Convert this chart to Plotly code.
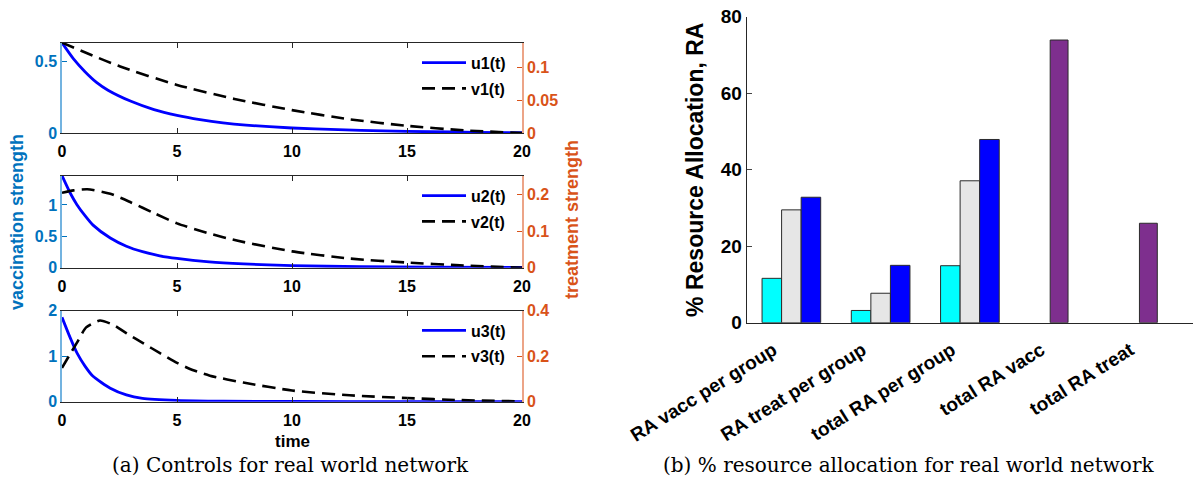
import plotly.graph_objects as go

# ---------------- data: controls (left panels) ----------------
t_u1 = [0, 0.5, 1, 1.5, 2, 3, 4, 5, 6, 7, 8, 10, 12, 14, 16, 18, 20]
u1 = [0.633, 0.52, 0.43, 0.355, 0.30, 0.222, 0.164, 0.124, 0.094, 0.071, 0.055, 0.035, 0.023, 0.015, 0.009, 0.005, 0.002]
t_v1 = [0, 2.5, 5, 7.5, 10, 12.5, 15, 17.5, 20]
v1 = [0.138, 0.102, 0.0735, 0.052, 0.035, 0.021, 0.011, 0.004, 0.0]

t_u2 = [0, 0.35, 0.65, 1, 1.35, 2.1, 2.8, 3.5, 4.25, 5, 6.4, 7.9, 10, 13, 16, 20]
u2 = [1.467, 1.195, 1.005, 0.83, 0.679, 0.473, 0.342, 0.255, 0.19, 0.147, 0.092, 0.06, 0.033, 0.016, 0.009, 0.005]
t_v2 = [0, 0.5, 1.1, 2.1, 3, 4, 5, 6.3, 7.6, 10, 12.5, 15, 17.3, 20]
v2 = [0.2045, 0.211, 0.214, 0.2017, 0.178, 0.149, 0.121, 0.095, 0.074, 0.0446, 0.025, 0.014, 0.0065, 0.0]

t_u3 = [0, 0.35, 0.65, 1, 1.35, 2.1, 2.8, 3.5, 5, 7, 10, 15, 20]
u3 = [1.85, 1.41, 1.07, 0.78, 0.556, 0.296, 0.148, 0.074, 0.03, 0.01, 0.004, 0.002, 0.001]
t_v3 = [0, 0.3, 0.65, 1.05, 1.65, 2.23, 2.81, 3.54, 4.26, 5.0, 5.71, 6.43, 7.88, 10, 12.5, 15, 17.3, 20]
v3 = [0.148, 0.2, 0.259, 0.326, 0.356, 0.337, 0.300, 0.256, 0.213, 0.170, 0.138, 0.114, 0.084, 0.049, 0.028, 0.016, 0.007, 0.0015]

# ---------------- data: resource allocation (right panel) ----------------
categories = ["RA vacc per group", "RA treat per group", "total RA per group", "total RA vacc", "total RA treat"]
group1 = [11.6, 3.2, 14.9]   # cyan
group2 = [29.5, 7.7, 37.1]   # light gray
group3 = [32.8, 15.0, 47.9]  # blue
totals = [73.9, 26.0]        # purple (total RA vacc, total RA treat)

BLUE_T = "#0072BD"
ORANGE_T = "#D95319"
FONT = "Liberation Sans"

fig = go.Figure()

panels = [
    (t_u1, u1, t_v1, v1, "u1(t)", "v1(t)", [0, 0.633], [0, 0.138], [0, 0.5], [0, 0.05, 0.1]),
    (t_u2, u2, t_v2, v2, "u2(t)", "v2(t)", [0, 1.467], [0, 0.251], [0, 0.5, 1], [0, 0.1, 0.2]),
    (t_u3, u3, t_v3, v3, "u3(t)", "v3(t)", [0, 2.0], [0, 0.4], [0, 1, 2], [0, 0.2, 0.4]),
]

W, H = 1196, 498
xl, xr = 62 / W, 522 / W
ydoms = [(133, 42.7), (267.7, 175.7), (401.7, 310.5)]

for i, (tu, u, tv, v, nu, nv, ur, vr, uticks, vticks) in enumerate(panels):
    k = i + 1
    xa = "x" if k == 1 else f"x{k}"
    ya_l = "y" if k == 1 else f"y{2*k-1}"
    ya_r = f"y{2*k}"
    leg = "legend" if k == 1 else f"legend{k}"
    fig.add_trace(go.Scatter(x=tu, y=u, mode="lines", name=nu, xaxis=xa, yaxis=ya_l,
                             line=dict(color="#0000FF", width=2.8, shape="spline", smoothing=0.6),
                             legend=leg, legendgroup=f"a{k}"))
    fig.add_trace(go.Scatter(x=tv, y=v, mode="lines", name=nv, xaxis=xa, yaxis=ya_r,
                             line=dict(color="#000000", width=2.6, dash="13px,7px", shape="spline", smoothing=0.6),
                             legend=leg, legendgroup=f"b{k}"))
    yb, yt = ydoms[i]
    dom = [1 - yb / H, 1 - yt / H]
    xkey = "xaxis" if k == 1 else f"xaxis{k}"
    ylkey = "yaxis" if k == 1 else f"yaxis{2*k-1}"
    yrkey = f"yaxis{2*k}"
    fig.update_layout(**{
        xkey: dict(domain=[xl, xr], anchor=ya_l, range=[0, 20], tickvals=[0, 5, 10, 15, 20],
                   ticks="inside", ticklen=5, tickcolor="#262626", mirror="ticks", showline=True,
                   linecolor="#262626", linewidth=1, showgrid=False, zeroline=False, automargin=False,
                   ticklabelstandoff=4,
                   tickfont=dict(family=FONT, size=16, color="#000000", weight="bold")),
        ylkey: dict(domain=dom, anchor=xa, range=ur, tickvals=uticks, ticks="inside", ticklen=5,
                    tickcolor=BLUE_T, showline=True, linecolor="#73B3E0", linewidth=1.5,
                    showgrid=False, zeroline=False, automargin=False,
                    tickfont=dict(family=FONT, size=16, color=BLUE_T, weight="bold")),
        yrkey: dict(domain=dom, anchor=xa, overlaying=ya_l, side="right", range=vr, tickvals=vticks,
                    ticks="inside", ticklen=5, tickcolor=ORANGE_T, showline=True,
                    linecolor="#ECA487", linewidth=1.5, showgrid=False, zeroline=False, automargin=False,
                    tickfont=dict(family=FONT, size=16, color=ORANGE_T, weight="bold")),
        leg: dict(x=511 / W, xanchor="right", y=1 - (yt + 3) / H, yanchor="top",
                  bgcolor="rgba(0,0,0,0)", borderwidth=0, tracegroupgap=2, itemwidth=44,
                  font=dict(family=FONT, size=16, color="#000000", weight="bold")),
    })

# ---------------- bar chart ----------------
idx = list(range(3))
bw = 0.219
line = dict(color="#2b2b2b", width=1)
fig.add_trace(go.Bar(x=idx, y=group1, width=bw, offset=-0.328, marker=dict(color="#00FFFF", line=line),
                     xaxis="x4", yaxis="y7", showlegend=False))
fig.add_trace(go.Bar(x=idx, y=group2, width=bw, offset=-0.109, marker=dict(color="#E6E6E6", line=line),
                     xaxis="x4", yaxis="y7", showlegend=False))
fig.add_trace(go.Bar(x=idx, y=group3, width=bw, offset=0.110, marker=dict(color="#0000FF", line=line),
                     xaxis="x4", yaxis="y7", showlegend=False))
fig.add_trace(go.Bar(x=[3, 4], y=totals, width=0.2, offset=-0.1, marker=dict(color="#7E2F8E", line=line),
                     xaxis="x4", yaxis="y7", showlegend=False))

fig.update_layout(
    barmode="overlay",
    xaxis4=dict(domain=[746.7 / W, 1193 / W], anchor="y7", range=[-0.5, 4.5],
                tickvals=list(range(len(categories))), ticktext=categories, tickangle=-32,
                ticks="", showline=True, linecolor="#262626", linewidth=1.2, showgrid=False,
                zeroline=False, automargin=False, ticklabelshift=-18, ticklabelstandoff=8,
                tickfont=dict(family=FONT, size=19, color="#000000", weight="bold")),
    yaxis7=dict(domain=[1 - 322.7 / H, 1 - 16.7 / H], anchor="x4", range=[0, 80],
                tickvals=[0, 20, 40, 60, 80], ticks="inside", ticklen=5, showline=True,
                linecolor="#262626", linewidth=1.2, showgrid=False, zeroline=False, automargin=False,
                tickfont=dict(family=FONT, size=19, color="#000000", weight="bold"),
                title=dict(text="% Resource Allocation, RA", standoff=10,
                           font=dict(family=FONT, size=23, color="#000000", weight="bold"))),
)

ann = [
    dict(text="vaccination strength", x=17 / W, y=1 - 222 / H, textangle=-90,
         font=dict(family=FONT, size=18, color=BLUE_T, weight="bold")),
    dict(text="treatment strength", x=572 / W, y=1 - 220 / H, textangle=-90,
         font=dict(family=FONT, size=18, color=ORANGE_T, weight="bold")),
    dict(text="time", x=292 / W, y=1 - 441 / H,
         font=dict(family=FONT, size=17, color="#000000", weight="bold")),
    dict(text="(a) Controls for real world network", x=290 / W, y=1 - 465 / H,
         font=dict(family="DejaVu Serif", size=20, color="#000000")),
    dict(text="(b) % resource allocation for real world network", x=908 / W, y=1 - 465 / H,
         font=dict(family="DejaVu Serif", size=20, color="#000000")),
]
for a in ann:
    a.update(xref="paper", yref="paper", showarrow=False, xanchor="center", yanchor="middle")

fig.update_layout(annotations=ann, width=W, height=H, margin=dict(l=0, r=0, t=0, b=0),
                  plot_bgcolor="white", paper_bgcolor="white")

fig.write_html("out.html")
